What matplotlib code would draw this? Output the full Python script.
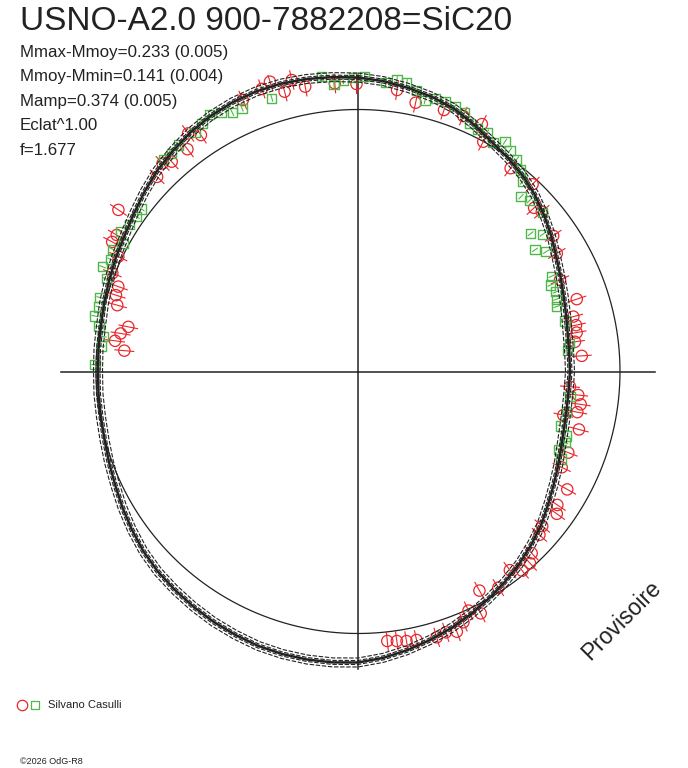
import numpy as np
import matplotlib
matplotlib.use('Agg')
import matplotlib.pyplot as plt
from matplotlib.lines import Line2D

plt.rcParams['font.family'] = ['Liberation Sans', 'DejaVu Sans']

# ---------------- data ----------------
title = "USNO-A2.0 900-7882208=SiC20"
stats = ["Mmax-Mmoy=0.233 (0.005)", "Mmoy-Mmin=0.141 (0.004)",
         "Mamp=0.374 (0.005)", "Eclat^1.00", "f=1.677"]
observer = "Silvano Casulli"
watermark = "Provisoire"
credit = "\u00a92026 OdG-R8"

# mean-magnitude reference circle radius (plot units)
r_mean = 262
# half-length of the cross hairs
r_axis = 297

# fitted light curve: phase angle (deg, clockwise from top) and radius
fit_phase_deg = [0, 5, 10, 15, 20, 25, 30, 35, 40, 45, 50, 55, 60, 65, 70, 75,
                 80, 85, 90, 95, 100, 105, 110, 115, 120, 125, 130, 135, 140,
                 145, 150, 155, 160, 165, 170, 175, 180, 185, 190, 195, 200,
                 205, 210, 215, 220, 225, 230, 235, 240, 245, 250, 255, 260,
                 265, 270, 275, 280, 285, 290, 295, 300, 305, 310, 315, 320,
                 325, 330, 335, 340, 345, 350, 355]
fit_r = [294, 291.5, 288, 284.5, 280, 273, 266, 261, 256, 250, 243, 236, 229,
         223.5, 219, 215.5, 213, 212, 212, 211.5, 212, 213.5, 216.5, 221, 226,
         232, 239, 245, 251, 256.5, 262, 267.5, 273, 278, 283, 287.5, 291,
         292, 292.5, 292.5, 292, 290.5, 289, 287, 285, 283, 280, 276, 272,
         268, 265, 262.5, 261, 260.5, 260, 260.5, 261, 263, 265, 267.5, 270,
         274, 279, 284, 288, 292, 295, 297, 298, 298, 297, 295.5]
band_offsets = [-4.5, -2.0, 2.0, 4.5]

# observer series 1 (red circles)
red_phase_deg = [-16.9, -12.8, -18.8, -14.7, -10.5, -4.6, -0.3, -23.0, -33.6, -35.5,
                 -37.5, -41.6, -43.2, -45.9, -56.0, -60.5, -62.2, -64.4, -68.2, -70.5,
                 -72.5, -74.6, -79.0, -80.9, -82.8, -84.9,
                 7.9, 12.1, 18.2, 22.4, 26.6, 28.6, 36.9, 43.0, 47.1, 49.0,
                 55.2, 59.3, 65.6, 71.7, 75.7, 78.0, 79.9, 82.2, 86.0,
                 94.1, 96.1, 98.4, 100.5, 102.0, 104.7, 111.1, 115.2, 119.4, 123.8,
                 125.6, 130.0, 132.0, 136.3, 138.1, 140.5, 142.6, 147.0, 151.0, 155.2,
                 153.1, 157.2, 159.2, 161.4, 163.5, 167.7, 169.8, 171.8, 173.8]
red_r = [302.9, 298.9, 298.5, 289.3, 289.7, 289.1, 287.5, 294.9, 283.9, 292.5,
         280.2, 280.6, 285.5, 279.7, 289.0, 277.2, 277.9, 265.8, 264.6, 254.3,
         253.8, 249.7, 234.0, 240.4, 244.9, 234.6,
         284.2, 274.9, 275.3, 276.3, 276.7, 261.7, 254.2, 256.0, 240.4, 243.5,
         237.7, 231.2, 221.8, 230.4, 222.2, 222.9, 222.1, 219.0, 224.3,
         212.5, 221.5, 225.1, 223.1, 209.9, 228.4, 225.4, 225.1, 240.2, 239.9,
         244.5, 240.5, 244.1, 251.4, 257.6, 258.2, 250.0, 257.7, 250.5, 263.4,
         271.2, 272.0, 278.3, 275.2, 277.2, 274.8, 273.9, 272.3, 271.1]
red_err = 10.0

# observer series 2 (green squares)
green_phase_deg = [-7.1, -4.8, -2.9, -0.8, 1.3, -17.5, -23.8, -25.9, -27.9, -30.0,
                   -32.2, -34.3, -38.4, -40.5, -42.6, -53.1, -55.0, -57.2, -59.5, -61.4,
                   -63.5, -65.6, -67.7, -69.8, -74.0, -76.0, -78.1, -80.2, -82.2, -84.3,
                   -88.5,
                   5.5, 7.6, 9.6, 11.8, 13.9, 15.9, 18.0, 20.1, 22.3,
                   24.3, 26.2, 28.4, 30.5, 32.6, 34.5, 36.8, 38.9, 40.9, 43.0,
                   45.1, 49.2, 51.4, 53.4, 55.5, 57.5, 63.8, 65.8, 68.1, 70.0,
                   71.9, 76.3, 82.4, 84.3,
                   96.8, 100.9, 105.0, 107.2, 109.0, 111.2, 113.3]
green_r = [297.1, 288.0, 291.2, 294.2, 294.9, 286.5, 287.7, 287.7, 293.0, 296.5,
           292.8, 289.1, 289.1, 286.9, 287.5, 270.5, 270.1, 271.4, 275.4, 267.4,
           274.1, 271.6, 276.0, 268.4, 268.5, 267.0, 268.8, 262.8, 257.1, 257.6,
           263.1,
           290.2, 294.4, 292.9, 286.9, 279.0, 284.1, 283.7, 282.0, 279.7,
           272.3, 270.3, 271.6, 266.0, 272.8, 268.2, 265.2, 259.0, 251.0, 239.0,
           241.9, 243.8, 220.9, 230.1, 214.7, 222.9, 216.0, 211.2, 213.5, 211.4,
           209.0, 213.1, 213.2, 210.7,
           213.5, 212.5, 210.2, 218.4, 218.9, 215.5, 221.1]
green_err = 3.5

RED = '#e8262b'
GREEN = '#4fb848'
INK = '#222222'

# ---------------- figure ----------------
W, H = 688, 768
fig = plt.figure(figsize=(W / 100, H / 100), dpi=100)
fig.patch.set_facecolor('white')

cx, cy, R = 358, 371.5, 310
ax = fig.add_axes([(cx - R) / W, (H - cy - R) / H, 2 * R / W, 2 * R / H],
                  projection='polar')
ax.set_theta_zero_location('N')
ax.set_theta_direction(-1)
ax.set_ylim(0, R)
ax.axis('off')

# cross hairs
for a in (0, 90, 180, 270):
    ax.plot([np.radians(a)] * 2, [0, r_axis], color=INK, lw=1.1, zorder=1)

# mean circle
tt = np.radians(np.linspace(0, 360, 721))
ax.plot(tt, np.full_like(tt, r_mean), color=INK, lw=0.9, zorder=1)

# observations
rt = np.radians(red_phase_deg)
rr = np.array(red_r)
ax.vlines(rt, rr - red_err, rr + red_err, colors=RED, lw=0.8, zorder=2)
ax.scatter(rt, rr, s=66, facecolors='none', edgecolors=RED, linewidths=0.9,
           zorder=2)

gt = np.radians(green_phase_deg)
gr = np.array(green_r)
ax.vlines(gt, gr - green_err, gr + green_err, colors=GREEN, lw=0.8, zorder=2)
ax.scatter(gt, gr, s=44, marker='s', facecolors='none', edgecolors=GREEN,
           linewidths=1.0, zorder=2)

# fitted curve and its band
ft = np.radians(fit_phase_deg + [fit_phase_deg[0] + 360])
fr = np.array(fit_r + [fit_r[0]])
for off in band_offsets:
    ax.plot(ft, fr + off, color=INK, lw=0.8, ls=(0, (4, 1.5)), zorder=3)
ax.plot(ft, fr, color=INK, lw=1.8, zorder=3)

# ---------------- texts ----------------
fig.text(20 / W, 1 - 21 / H, title, fontsize=24, va='center', ha='left',
         color=INK)
for i, s in enumerate(stats):
    fig.text(20 / W, 1 - (52 + 24.6 * i) / H, s, fontsize=12.2, va='center',
             ha='left', color=INK)

fig.text(622 / W, 1 - 620 / H, watermark, fontsize=16.5, rotation=45,
         ha='center', va='center', rotation_mode='anchor', color=INK)

fig.add_artist(Line2D([22 / W], [1 - 705 / H], marker='o', ms=7.5,
                      mfc='none', mec=RED, mew=0.9, transform=fig.transFigure))
fig.add_artist(Line2D([35 / W], [1 - 705 / H], marker='s', ms=6,
                      mfc='none', mec=GREEN, mew=0.9, transform=fig.transFigure))
fig.text(48 / W, 1 - 705 / H, observer, fontsize=8, va='center', ha='left',
         color=INK)
fig.text(20 / W, 1 - 762 / H, credit, fontsize=6.5, va='center', ha='left',
         color=INK)

fig.savefig('out.png', dpi=100, facecolor='white')
